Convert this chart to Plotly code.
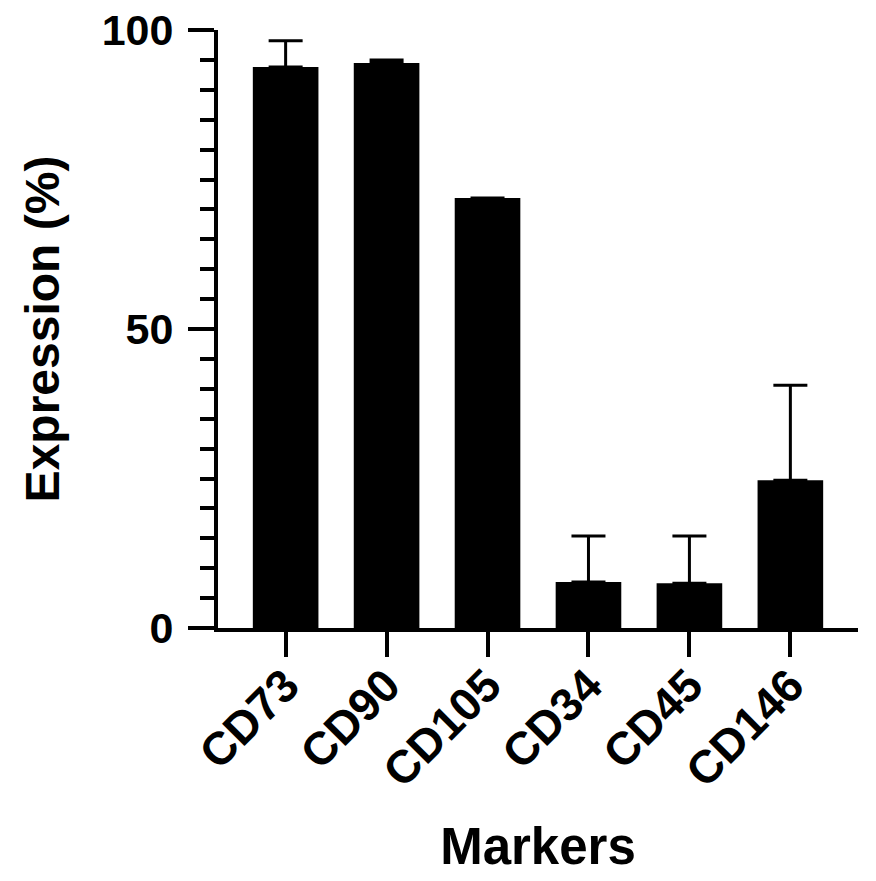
import plotly.graph_objects as go

markers = ["CD73", "CD90", "CD105", "CD34", "CD45", "CD146"]
expression = [93.8, 94.5, 71.9, 7.7, 7.5, 24.7]
error_up = [4.4, 0.5, None, 7.7, 7.9, 15.9]
error_down = [0, 0, None, 0, 0, 0]

FONT = "Liberation Sans, Arial, Helvetica, sans-serif"

fig = go.Figure()
fig.add_trace(go.Bar(
    x=markers,
    y=expression,
    width=0.65,
    marker=dict(color="black", line=dict(width=0)),
    error_y=dict(type="data", symmetric=False, array=error_up, arrayminus=error_down,
                 color="black", thickness=3, width=17),
))

fig.update_layout(
    width=876, height=881,
    margin=dict(l=218, r=18, t=30, b=253),
    plot_bgcolor="white", paper_bgcolor="white",
    showlegend=False,
    font=dict(family=FONT, color="black"),
)

fig.update_xaxes(
    range=[-0.67, 5.67],
    automargin=False,
    showline=True, linecolor="black", linewidth=4,
    ticks="outside", ticklen=25, tickwidth=4, tickcolor="black",
    tickangle=-45,
    ticklabelstandoff=-17,
    tickfont=dict(family=FONT, size=46, weight="bold", color="black"),
    title=dict(text="Markers", font=dict(family=FONT, size=51, weight="bold", color="black"), standoff=34),
    showgrid=False, zeroline=False,
)

fig.update_yaxes(
    range=[0, 100],
    automargin=False,
    tickmode="linear", tick0=0, dtick=50,
    showline=True, linecolor="black", linewidth=4,
    ticks="outside", ticklen=26, tickwidth=4, tickcolor="black",
    ticklabelstandoff=6,
    minor=dict(dtick=5, ticks="outside", ticklen=14, tickwidth=4, tickcolor="black"),
    tickfont=dict(family=FONT, size=43, weight="bold", color="black"),
    title=dict(text="Expression (%)", font=dict(family=FONT, size=48, weight="bold", color="black"), standoff=28),
    showgrid=False, zeroline=False,
)

fig.write_html("out.html", config={"displayModeBar": False},
               post_script="document.body.style.margin='0';document.body.style.overflow='hidden';")
